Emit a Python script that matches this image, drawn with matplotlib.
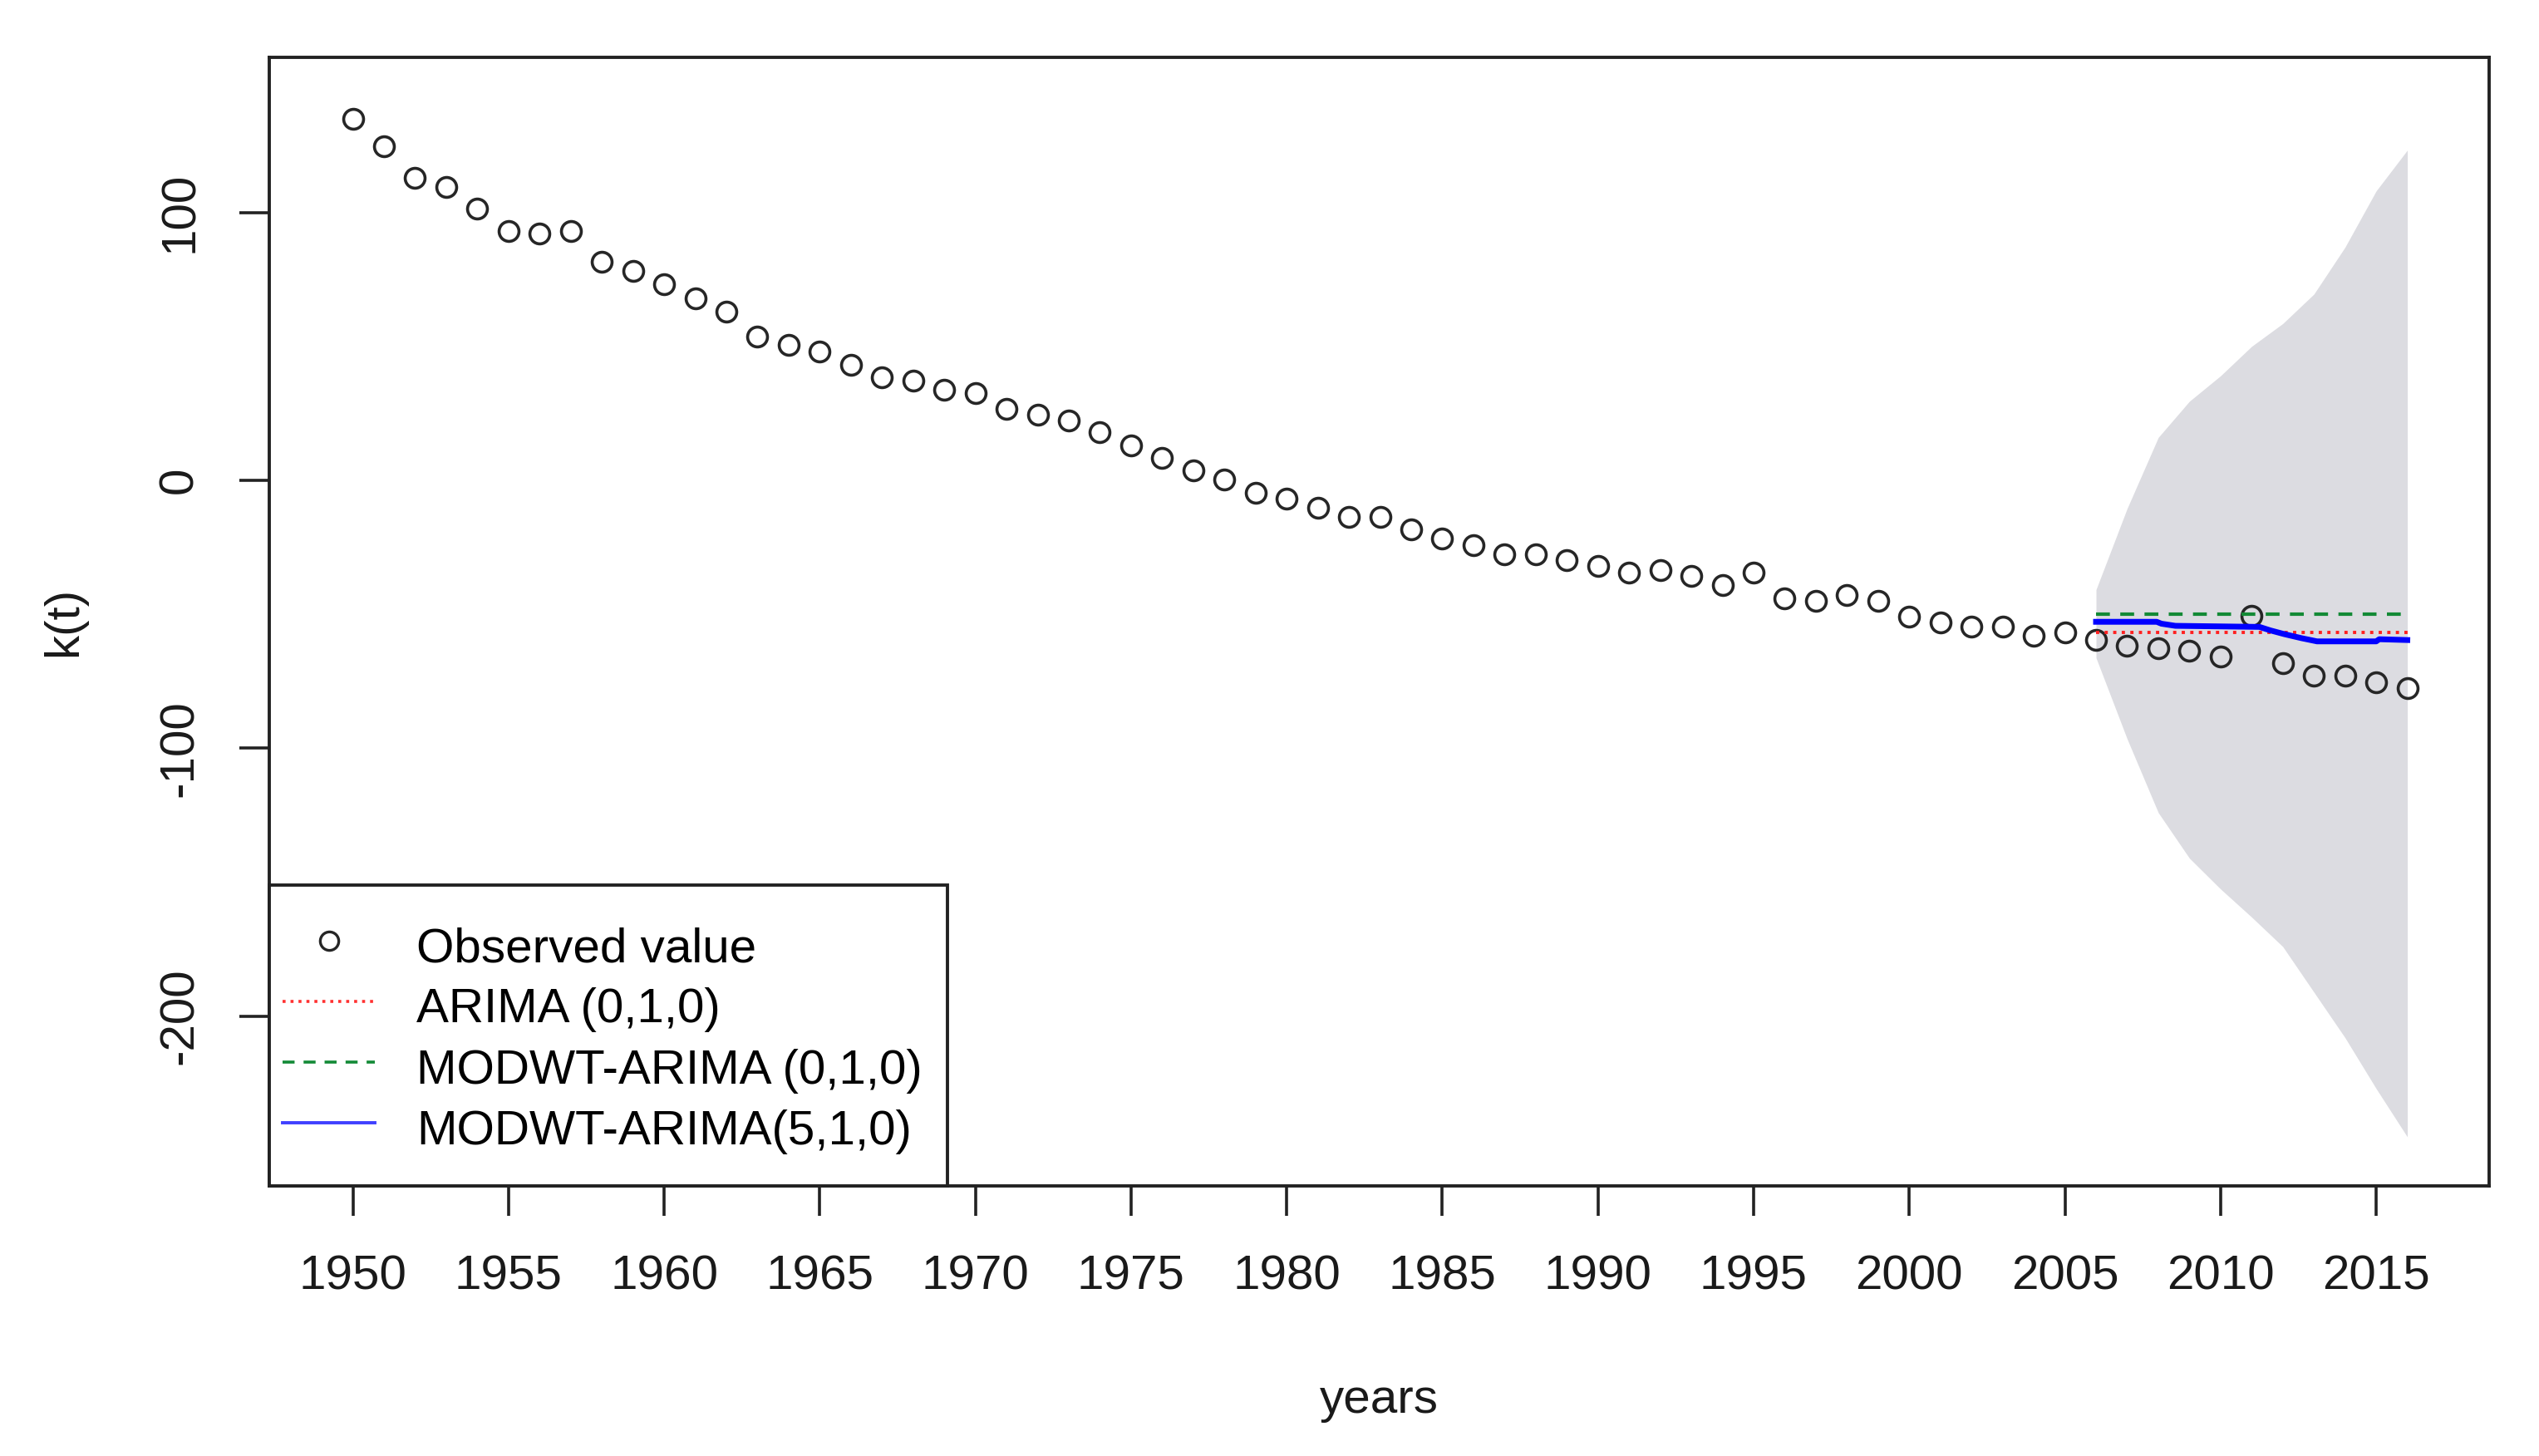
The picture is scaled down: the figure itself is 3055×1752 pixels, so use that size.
import matplotlib.pyplot as plt
from matplotlib.lines import Line2D
from matplotlib.patches import Rectangle

plt.rcParams['font.family'] = ['Liberation Sans', 'DejaVu Sans']
plt.rcParams['axes.unicode_minus'] = False

# observed k(t)
years = list(range(1950, 2017))
observed = [135.0, 124.6, 112.8, 109.4, 101.4, 92.9, 92.0, 93.1, 81.5, 78.2,
            73.2, 67.8, 63.0, 53.7, 50.4, 48.0, 43.0, 38.6, 37.1, 33.9,
            32.7, 26.8, 24.6, 22.3, 17.9, 13.0, 8.5, 3.7, 0.2, -4.6,
            -6.7, -10.1, -13.5, -13.5, -18.4, -21.8, -24.3, -27.7, -27.5, -29.9,
            -32.0, -34.5, -33.4, -35.7, -39.2, -34.5, -44.0, -45.1, -42.8, -45.1,
            -51.0, -53.1, -54.5, -54.5, -57.9, -56.8, -59.4, -61.7, -62.7, -63.5,
            -65.8, -50.6, -68.3, -72.9, -72.9, -75.3, -77.6]

# forecast interval
fc_years = list(range(2006, 2017))
band_upper = [-40.8, -10.5, 16.0, 29.5, 39.0, 50.0, 58.5, 69.5, 87.0, 108.0, 123.2]
band_lower = [-66.2, -96.5, -124.0, -141.0, -152.5, -163.0, -174.0, -191.0, -208.0, -227.0, -245.0]

# forecasts
arima_years = [2006, 2016]
arima_vals = [-56.9, -56.9]
modwt010_years = [2006, 2016]
modwt010_vals = [-49.9, -49.9]
modwt510_years = [2006.0, 2007.95, 2008.1, 2008.55, 2011.25, 2011.6, 2012.05,
                  2012.6, 2013.1, 2015.0, 2015.1, 2016.0]
modwt510_vals = [-52.8, -52.8, -53.5, -54.3, -54.7, -56.0, -57.4,
                 -58.9, -60.1, -60.1, -59.3, -59.6]

xticks = list(range(1950, 2016, 5))
yticks = [-200, -100, 0, 100]
labels = ["Observed value", "ARIMA (0,1,0)", "MODWT-ARIMA (0,1,0)", "MODWT-ARIMA(5,1,0)"]

fig = plt.figure(figsize=(15.275, 8.76), dpi=200)
ax = fig.add_axes([0.1061, 0.1857, 0.8744, 0.7752])

ax.fill_between(fc_years, band_lower, band_upper, color='#dcdce1', lw=0, zorder=1)
ax.plot(years, observed, 'o', ms=8.6, mfc='none', mec='#262626', mew=1.3, zorder=3)
ax.plot(arima_years, arima_vals, color='#ff2020', ls=':', lw=1.4, zorder=4)
ax.plot(modwt010_years, modwt010_vals, color='#138a36', ls=(0, (4, 3)), lw=1.5, zorder=4)
ax.plot(modwt510_years, modwt510_vals, color='#0000ff', lw=2.5, zorder=5)

ax.set_xlim(1947.32, 2018.64)
ax.set_ylim(-263.2, 158.0)
ax.set_xticks(xticks)
ax.set_yticks(yticks)
ax.tick_params(axis='both', direction='out', length=13, width=1.3, colors='#222222',
               labelsize=21, labelcolor='#1a1a1a')
ax.tick_params(axis='x', pad=17)
ax.tick_params(axis='y', pad=16, labelrotation=90)
for lab in ax.get_yticklabels():
    lab.set_va('center')
for sp in ax.spines.values():
    sp.set_linewidth(1.4)
    sp.set_color('#222222')

ax.set_xlabel("years", fontsize=21, color='#1a1a1a', va='center')
ax.xaxis.set_label_coords(0.5, -0.19)
ax.set_ylabel("k(t)", fontsize=21, color='#1a1a1a', va='center')
ax.yaxis.set_label_coords(-0.0923, 0.5)

handles = [
    Line2D([], [], ls='none', marker='o', ms=8.0, mfc='none', mec='#262626', mew=1.2),
    Line2D([], [], color='#ff3030', ls=':', lw=1.3),
    Line2D([], [], color='#138a36', ls=(0, (4, 3)), lw=1.3),
    Line2D([], [], color='#4040ff', lw=1.4),
]
leg = ax.legend(handles, labels, loc='lower left', bbox_to_anchor=(0, 0.0159),
                borderaxespad=0, frameon=False, fontsize=21,
                handlelength=1.89, handletextpad=0.87,
                handleheight=1.26, borderpad=0.28, labelspacing=0.18)
leg.set_zorder(6)

# legend box like R: more room above/below than at the sides
fig.canvas.draw()
bb = leg.get_window_extent().transformed(ax.transAxes.inverted())
ax_w = ax.get_window_extent().width
ax_h = ax.get_window_extent().height
box = Rectangle((0, 0), bb.x1 + 13 / ax_w, bb.y1 + 25.5 / ax_h, transform=ax.transAxes,
                facecolor='white', edgecolor='#222222', lw=1.4, zorder=5.5, clip_on=False)
ax.add_patch(box)

fig.savefig("out.png", dpi=200, facecolor='white')
